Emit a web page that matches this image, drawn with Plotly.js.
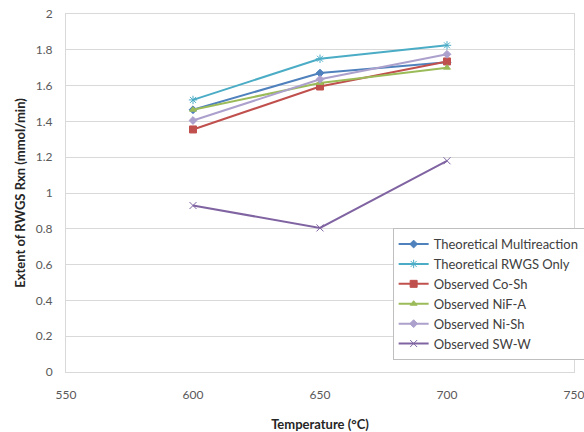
<!DOCTYPE html>
<html>
<head>
<meta charset="utf-8">
<script src="https://cdn.plot.ly/plotly-3.0.1.min.js"></script>
<style>html,body{margin:0;padding:0;background:#fff;}#chart{width:584px;height:432px;overflow:hidden;}</style>
</head>
<body>
<div id="chart"></div>
<script>
const temperatures = [600, 650, 700];
const seriesNames = ["Theoretical Multireaction", "Theoretical RWGS Only", "Observed Co-Sh", "Observed NiF-A", "Observed Ni-Sh", "Observed SW-W"];
const theoreticalMulti = [1.465, 1.67, 1.73];
const theoreticalRWGS = [1.52, 1.75, 1.825];
const observedCoSh = [1.355, 1.595, 1.735];
const observedNiFA = [1.465, 1.615, 1.70];
const observedNiSh = [1.405, 1.635, 1.775];
const observedSWW = [0.93, 0.805, 1.18];
const xTicks = [550, 600, 650, 700, 750];
const yTicks = [0, 0.2, 0.4, 0.6, 0.8, 1, 1.2, 1.4, 1.6, 1.8, 2];

const values = [theoreticalMulti, theoreticalRWGS, observedCoSh, observedNiFA, observedNiSh, observedSWW];
const colors = ["#4F81BD", "#4BACC6", "#C0504D", "#9BBB59", "#ACA0CC", "#8064A2"];
const symbols = ["diamond", "asterisk-open", "square", "triangle-up", "diamond", "x-thin-open"];
const sizes = [6, 7, 7, 6, 6, 7];

const traces = values.map((v, i) => ({
  x: temperatures, y: v, name: seriesNames[i], type: "scatter", mode: "lines+markers",
  line: {color: colors[i], width: 2},
  marker: {symbol: symbols[i], size: sizes[i], color: colors[i], line: {color: colors[i], width: 1}}
}));

const font = "Lato, 'Liberation Sans', sans-serif";
const layout = {
  width: 584, height: 432,
  margin: {l: 66, r: 10, t: 14, b: 60, autoexpand: false},
  paper_bgcolor: "#fff", plot_bgcolor: "#fff",
  font: {family: font, size: 12, color: "#595959"},
  showlegend: true,
  legend: {x: 0.643, y: 0.402, xanchor: "left", yanchor: "top", bgcolor: "#fff",
    bordercolor: "#BFBFBF", borderwidth: 1, font: {family: font, size: 13, color: "#404040"},
    itemwidth: 30, tracegroupgap: 0},
  xaxis: {range: [550, 750], tickvals: xTicks, ticktext: xTicks.map(String), showgrid: false,
    zeroline: false, showline: true, linecolor: "#D9D9D9", linewidth: 1, mirror: true, ticks: "",
    ticklabelstandoff: 12, ticklabeloverflow: "allow",
    title: {text: "Temperature (°C)", font: {family: font, size: 13, color: "#262626", weight: "bold"}, standoff: 18}},
  yaxis: {range: [0, 2], tickvals: yTicks, ticktext: yTicks.map(String), showgrid: true, gridcolor: "#D9D9D9",
    zeroline: false, showline: true, linecolor: "#D9D9D9", linewidth: 1, mirror: true, ticks: "",
    ticklabelstandoff: 10,
    title: {text: "Extent of RWGS Rxn (mmol/min)", font: {family: font, size: 13, color: "#262626", weight: "bold"}, standoff: 7}}
};
Plotly.newPlot("chart", traces, layout, {displayModeBar: false, staticPlot: true});
</script>
</body>
</html>
